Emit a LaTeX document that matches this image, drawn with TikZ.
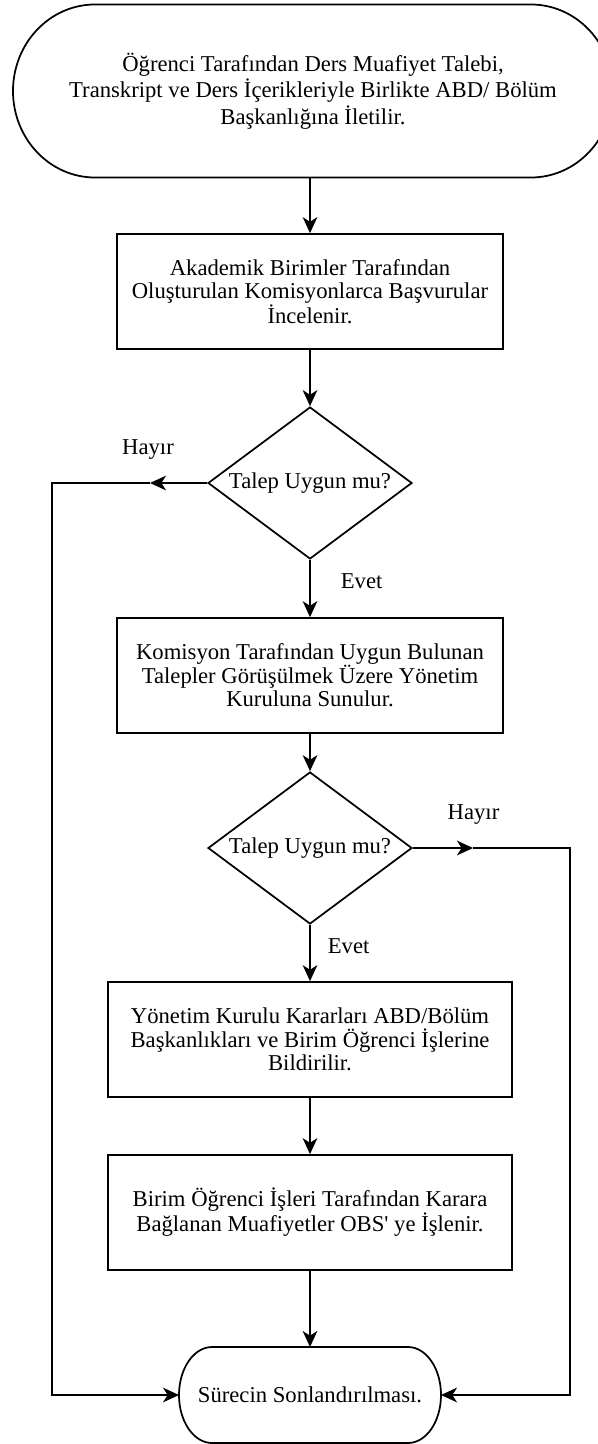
\documentclass[tikz,border=0pt]{standalone}
\usepackage{fontspec}
\setmainfont{Liberation Serif}
\usetikzlibrary{arrows.meta,shapes.geometric}
\tikzset{
  box/.style={draw, align=center, minimum height=86.25pt, inner sep=0pt, font=\fontsize{17pt}{17.5pt}\selectfont},
  decision/.style={draw, diamond, aspect=1.34, minimum width=153pt, minimum height=114pt, inner sep=0pt, font=\fontsize{17pt}{17.5pt}\selectfont},
  terminal/.style={align=center, inner sep=0pt, outer sep=0pt, font=\fontsize{17pt}{20pt}\selectfont},
  yesno/.style={anchor=base, inner sep=0pt, font=\fontsize{17pt}{17.5pt}\selectfont}
}
\newcommand{\termline}[3]{\draw ([xshift=#2]#1.north west) -- ([xshift=-#2]#1.north east) arc[start angle=90,end angle=-90,x radius=#2,y radius=#3] -- ([xshift=#2]#1.south west) arc[start angle=270,end angle=90,x radius=#2,y radius=#3] -- cycle;}
\begin{document}
\begin{tikzpicture}[x=0.75pt,y=-0.75pt,line width=1.3pt,>={Stealth[length=12pt,width=11pt,inset=3.5pt]}]
\useasboundingbox (0,0) rectangle (598,1444);
\node[terminal, minimum width=450pt, minimum height=129.75pt] (start) at (313,91) {Öğrenci Tarafından Ders Muafiyet Talebi,\\ Transkript ve Ders İçerikleriyle Birlikte ABD/ Bölüm\\ Başkanlığına İletilir.};
\termline{start}{61.5pt}{64.875pt}
\node[box, minimum width=289.5pt] (b1) at (310,291.5) {Akademik Birimler Tarafından\\ Oluşturulan Komisyonlarca Başvurular\\ İncelenir.};
\node[decision] (d1) at (310,483) {Talep Uygun mu?};
\node[box, minimum width=289.5pt] (b2) at (310,675.5) {Komisyon Tarafından Uygun Bulunan\\ Talepler Görüşülmek Üzere Yönetim\\ Kuruluna Sunulur.};
\node[decision] (d2) at (310,848) {Talep Uygun mu?};
\node[box, minimum width=303pt] (b3) at (310,1039.5) {Yönetim Kurulu Kararları ABD/Bölüm\\ Başkanlıkları ve Birim Öğrenci İşlerine\\ Bildirilir.};
\node[box, minimum width=303pt] (b4) at (310,1212.5) {Birim Öğrenci İşleri Tarafından Karara\\ Bağlanan Muafiyetler OBS\textquotesingle{} ye İşlenir.};
\node[terminal, minimum width=196.5pt, minimum height=72pt] (end) at (310,1395) {Sürecin Sonlandırılması.};
\termline{end}{24.75pt}{36pt}

\node[yesno] (h1) at (148,454) {Hayır};
\node[yesno, anchor=base west] (e1) at (340,588) {Evet};
\node[yesno] (h2) at (473.5,819) {Hayır};
\node[yesno, anchor=base west] (e2) at (327,953) {Evet};

\draw[->] (b1.north |- start.south) -- (b1.north);
\draw[->] (b1) -- (d1);
\draw[->] (d1) -- (b2);
\draw[->] (b2) -- (d2);
\draw[->] (d2) -- (b3);
\draw[->] (b3) -- (b4);
\draw[->] (b4) -- (end);

\coordinate (nl) at (150,483);
\coordinate (cl) at (52,483);
\draw[->] (d1.west) -- (nl);
\draw[->] (nl) -- (cl) |- (end.west);
\coordinate (nr) at (473,848);
\coordinate (cr) at (570,848);
\draw[->] (d2.east) -- (nr);
\draw[->] (nr) -- (cr) |- (end.east);

\end{tikzpicture}
\end{document}
